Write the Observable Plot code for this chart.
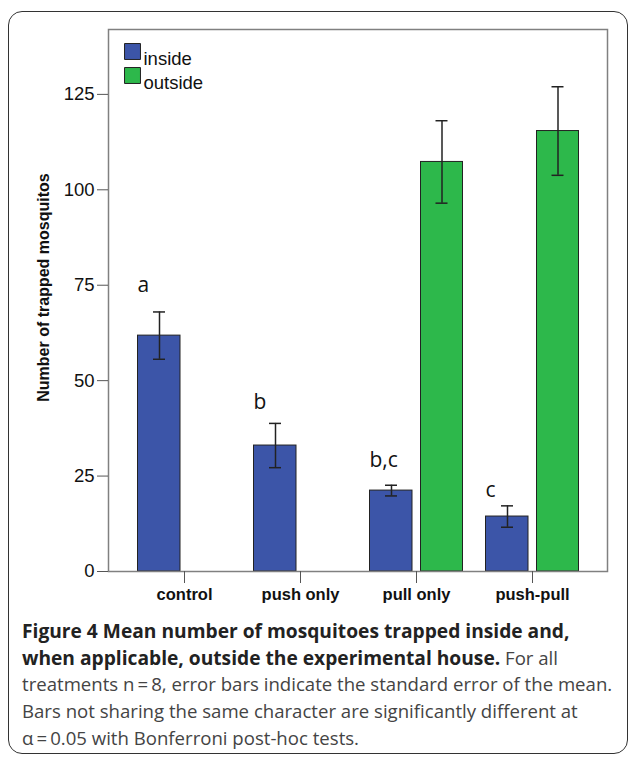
<!DOCTYPE html>
<html>
<head>
<meta charset="utf-8">
<script src="https://cdn.jsdelivr.net/npm/d3@7"></script>
<script src="https://cdn.jsdelivr.net/npm/@observablehq/plot@0.6"></script>
<style>
body{margin:0;background:#fff;}
#wrap{position:relative;width:629px;height:757px;overflow:hidden;background:#fff;}
#border{position:absolute;left:8px;top:11px;width:620px;height:743px;border:1.5px solid #333;border-radius:14px;box-sizing:border-box;}
#chart{position:absolute;left:0;top:0;}
#caption{position:absolute;left:22px;top:618px;font-family:"Open Sans",sans-serif;font-size:18.6px;line-height:26.7px;color:#444;white-space:nowrap;}
#caption b{color:#222;font-weight:700;font-size:19.2px;}
</style>
</head>
<body>
<div id="wrap">
  <div id="border"></div>
  <div id="chart"></div>
  <div id="caption"></div>
</div>
<script>
const categories = ["control", "push only", "pull only", "push-pull"];
const series = ["inside", "outside"];
const insideMean = [61.8, 33.0, 21.2, 14.4];
const insideSE = [6.2, 5.8, 1.4, 2.8];
const outsideMean = [null, null, 107.3, 115.4];
const outsideSE = [null, null, 10.8, 11.6];
const letters = ["a", "b", "b,c", "c"];
const letterY = [74.9, 44.3, 29.1, 21.2];
const yTicks = [0, 25, 50, 75, 100, 125];
const yTitle = "Number of trapped mosquitos";
const colors = ["#3c55a8", "#2db84b"];
const captionBold = "Figure 4 Mean number of mosquitoes trapped inside and,<br>when applicable, outside the experimental house.";
const captionText = " For all<br>treatments n\u2009=\u20098, error bars indicate the standard error of the mean.<br>Bars not sharing the same character are significantly different at<br>\u03b1\u2009=\u20090.05 with Bonferroni post-hoc tests.";

const insideRows = categories.map((c, i) => ({category: c, mean: insideMean[i], se: insideSE[i]}));
const outsideRows = categories.map((c, i) => ({category: c, mean: outsideMean[i], se: outsideSE[i]})).filter(d => d.mean != null);
const letterRows = categories.map((c, i) => ({category: c, letter: letters[i], ly: letterY[i]}));

const errStyle = {stroke: "#222", strokeWidth: 1.5};

const chart = Plot.plot({
  width: 629,
  height: 612,
  marginTop: 29,
  marginBottom: 41,
  marginLeft: 108,
  marginRight: 22,
  style: {fontFamily: "'Liberation Sans', Arial, sans-serif", background: "transparent", overflow: "visible", color: "#111"},
  x: {domain: categories, padding: 0, insetLeft: 18, insetRight: 17},
  y: {domain: [0, 142]},
  marks: [
    Plot.barY(insideRows, {x: "category", y: "mean", fill: colors[0], stroke: "#222", strokeWidth: 1, insetLeft: 11.5, insetRight: 62}),
    Plot.barY(outsideRows, {x: "category", y: "mean", fill: colors[1], stroke: "#222", strokeWidth: 1, insetLeft: 62.5, insetRight: 11.5}),
    Plot.ruleX(insideRows, {x: "category", y1: d => d.mean - d.se, y2: d => d.mean + d.se, dx: -25, ...errStyle}),
    Plot.tickY(insideRows, {x: "category", y: d => d.mean + d.se, insetLeft: 27, insetRight: 77, ...errStyle}),
    Plot.tickY(insideRows, {x: "category", y: d => d.mean - d.se, insetLeft: 27, insetRight: 77, ...errStyle}),
    Plot.ruleX(outsideRows, {x: "category", y1: d => d.mean - d.se, y2: d => d.mean + d.se, dx: 25.5, ...errStyle}),
    Plot.tickY(outsideRows, {x: "category", y: d => d.mean + d.se, insetLeft: 77.5, insetRight: 26.5, ...errStyle}),
    Plot.tickY(outsideRows, {x: "category", y: d => d.mean - d.se, insetLeft: 77.5, insetRight: 26.5, ...errStyle}),
    Plot.frame({stroke: "#808080", strokeWidth: 1.5}),
    Plot.axisY({ticks: yTicks, tickSize: 11, tickPadding: 3, fontSize: 18.5, label: null, stroke: "#555", fill: "#111"}),
    Plot.axisX({tickSize: 12, tickPadding: 5, fontSize: 16.5, fontWeight: "bold", label: null, stroke: "#555", fill: "#111"}),
    Plot.text([yTitle], {frameAnchor: "left", text: d => d, rotate: -90, textAnchor: "middle", dx: -65, dy: -13, fontWeight: "bold", fontSize: 16, fill: "#111"}),
    Plot.text(letterRows, {x: "category", y: "ly", text: "letter", dx: -47, textAnchor: "start", fontSize: 21, fontFamily: "'Open Sans', sans-serif", fill: "#111"}),
    Plot.dot([series[0]], {frameAnchor: "top-left", dx: 24, dy: 22, symbol: "square", r: 9, fill: colors[0], stroke: "#222", strokeWidth: 1}),
    Plot.dot([series[1]], {frameAnchor: "top-left", dx: 24, dy: 46, symbol: "square", r: 9, fill: colors[1], stroke: "#222", strokeWidth: 1}),
    Plot.text([series[0]], {frameAnchor: "top-left", dx: 35, dy: 22, text: d => d, textAnchor: "start", fontSize: 18.5, fill: "#111"}),
    Plot.text([series[1]], {frameAnchor: "top-left", dx: 35, dy: 46, text: d => d, textAnchor: "start", fontSize: 18.5, fill: "#111"})
  ]
});
document.getElementById("chart").appendChild(chart);
document.getElementById("caption").innerHTML = "<b>" + captionBold + "</b>" + captionText;
</script>
</body>
</html>
